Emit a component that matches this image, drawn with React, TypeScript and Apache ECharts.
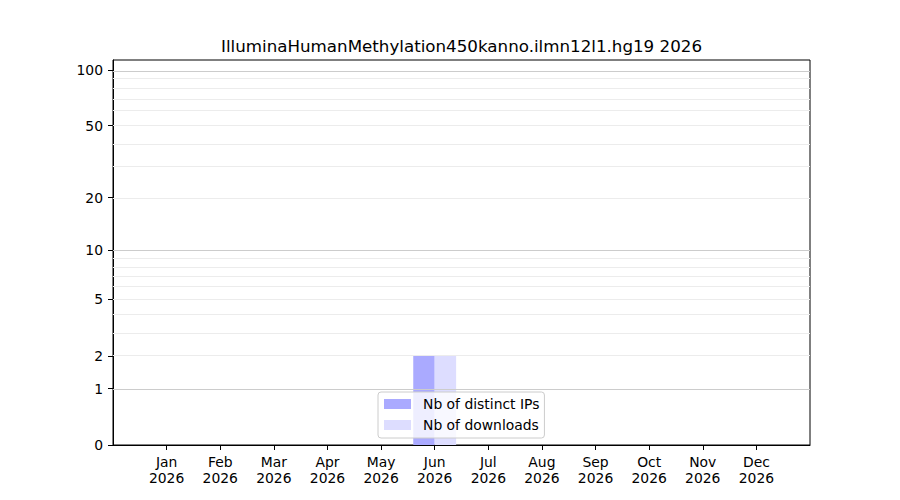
import React, { useEffect, useRef } from "react";
import * as echarts from "echarts";

const titleText = "IlluminaHumanMethylation450kanno.ilmn12l1.hg19 2026";
const months = ["Jan", "Feb", "Mar", "Apr", "May", "Jun", "Jul", "Aug", "Sep", "Oct", "Nov", "Dec"];
const year = "2026";
const distinctIPs = [0, 0, 0, 0, 0, 2, 0, 0, 0, 0, 0, 0];
const downloads = [0, 0, 0, 0, 0, 2, 0, 0, 0, 0, 0, 0];
const yTickValues = [0, 1, 2, 5, 10, 20, 50, 100];
const yMajorLines = [1, 10, 100];
const yLightLines = [2, 3, 4, 5, 6, 7, 8, 9, 20, 30, 40, 50, 60, 70, 80, 90];
const yTopValue = 113.5;
const xMin = 0;
const xMax = 13;

const tf = (v: number) => Math.log10(1 + v);
const inv = (t: number) => Math.round(Math.pow(10, t) - 1);

const FONT = "DejaVu Sans";

function barSeries(name: string, values: number[], color: string, offset: number) {
  return {
    name,
    type: "custom",
    z: 3,
    itemStyle: { color },
    encode: { x: 0, y: 1 },
    data: values.map((v, i) => [i + 1, v]),
    renderItem: (params: any, api: any) => {
      const x = api.value(0);
      const v = api.value(1);
      if (!v) return null;
      const p0 = api.coord([x + offset, tf(v)]);
      const p1 = api.coord([x + offset + 0.4, 0]);
      return {
        type: "rect",
        shape: { x: p0[0], y: p0[1], width: p1[0] - p0[0], height: p1[1] - p0[1] },
        style: { fill: color },
      };
    },
  };
}

export default function App() {
  const ref = useRef<HTMLDivElement>(null);
  useEffect(() => {
    if (!ref.current) return;
    const chart = echarts.init(ref.current, undefined, { renderer: "svg" });
    const lines = [
      ...yLightLines.map((v) => ({ yAxis: tf(v), lineStyle: { color: "#ececec", width: 1, type: "solid" } })),
      ...yMajorLines.map((v) => ({ yAxis: tf(v), lineStyle: { color: "#cccccc", width: 1, type: "solid" } })),
    ];
    chart.setOption({
      animation: false,
      textStyle: { fontFamily: FONT },
      graphic: [
        {
          type: "text",
          x: 461.5,
          y: 46,
          style: {
            text: titleText,
            fontFamily: FONT,
            fontSize: 16.7,
            fill: "#000",
            align: "center",
            verticalAlign: "middle",
          },
        },
      ],
      grid: {
        left: 113,
        right: 90,
        top: 60,
        bottom: 55,
        show: true,
        borderColor: "#000",
        borderWidth: 1,
        backgroundColor: "transparent",
      },
      legend: {
        data: ["Nb of distinct IPs", "Nb of downloads"],
        orient: "vertical",
        left: 378,
        top: 392,
        icon: "rect",
        itemWidth: 27,
        itemHeight: 10,
        itemGap: 5,
        padding: [4, 5, 5, 6],
        backgroundColor: "rgba(255,255,255,0.8)",
        borderColor: "#cccccc",
        borderWidth: 1,
        borderRadius: 3,
        selectedMode: false,
        z: 10,
        textStyle: {
          fontFamily: FONT,
          fontSize: 13.9,
          color: "#000",
          lineHeight: 16,
          padding: [0, 0, 0, 7],
        },
      },
      xAxis: {
        type: "value",
        min: xMin,
        max: xMax,
        splitLine: { show: false },
        axisLine: { show: true, lineStyle: { color: "#000", width: 1 } },
        axisTick: {
          show: true,
          length: 5,
          lineStyle: { color: "#000", width: 1 },
          customValues: months.map((_, i) => i + 1),
        },
        axisLabel: {
          customValues: months.map((_, i) => i + 1),
          formatter: (v: number) => `${months[Math.round(v) - 1]}\n${year}`,
          fontFamily: FONT,
          fontSize: 13.9,
          lineHeight: 16,
          color: "#000",
          margin: 9,
        },
      },
      yAxis: {
        type: "value",
        min: 0,
        max: tf(yTopValue),
        splitLine: { show: false },
        axisLine: { show: true, lineStyle: { color: "#000", width: 1 } },
        axisTick: {
          show: true,
          length: 5,
          lineStyle: { color: "#000", width: 1 },
          customValues: yTickValues.map(tf),
        },
        axisLabel: {
          customValues: yTickValues.map(tf),
          formatter: (v: number) => String(inv(v)),
          fontFamily: FONT,
          fontSize: 13.9,
          color: "#000",
          margin: 10,
        },
      },
      series: [
        {
          name: "grid",
          type: "line",
          z: 1,
          data: [],
          markLine: {
            silent: true,
            symbol: ["none", "none"],
            label: { show: false },
            animation: false,
            data: lines,
          },
        },
        barSeries("Nb of distinct IPs", distinctIPs, "#aaaaff", -0.4),
        barSeries("Nb of downloads", downloads, "#ddddff", 0),
      ],
    });
    return () => chart.dispose();
  }, []);
  return <div ref={ref} style={{ position: "absolute", left: 0, top: 0, width: 900, height: 500 }} />;
}
